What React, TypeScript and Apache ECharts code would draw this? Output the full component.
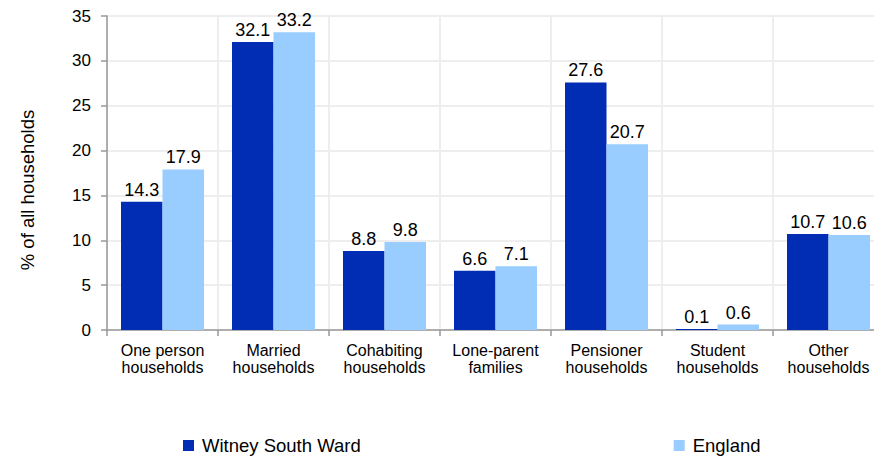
import React, { useEffect, useRef } from "react";
import * as echarts from "echarts";

const categories = [
  "One person\nhouseholds",
  "Married\nhouseholds",
  "Cohabiting\nhouseholds",
  "Lone-parent\nfamilies",
  "Pensioner\nhouseholds",
  "Student\nhouseholds",
  "Other\nhouseholds",
];
const witney = [14.3, 32.1, 8.8, 6.6, 27.6, 0.1, 10.7];
const england = [17.9, 33.2, 9.8, 7.1, 20.7, 0.6, 10.6];
const seriesNames = ["Witney South Ward", "England"];

const FONT = "Liberation Sans, Arial, sans-serif";

export default function App() {
  const ref = useRef<HTMLDivElement>(null);
  useEffect(() => {
    if (!ref.current) return;
    const chart = echarts.init(ref.current, undefined, { renderer: "svg" });
    const label = {
      show: true,
      position: "top",
      distance: 3,
      color: "#000",
      fontSize: 18,
      fontFamily: FONT,
      formatter: (p: any) => p.value.toFixed(1),
    };
    chart.setOption({
      animation: false,
      backgroundColor: "#fff",
      textStyle: { fontFamily: FONT },
      grid: {
        left: 107,
        width: 777,
        top: 16,
        bottom: 129,
        containLabel: false,
        outerBoundsMode: "none",
      },
      legend: {
        left: 178,
        top: 431,
        itemWidth: 11,
        itemHeight: 11,
        itemGap: 313,
        icon: "rect",
        textStyle: { fontSize: 18.5, color: "#000", fontFamily: FONT, padding: [0, 0, 0, 3] },
        data: seriesNames,
      },
      graphic: [
        {
          type: "text",
          x: 27,
          y: 190,
          rotation: Math.PI / 2,
          style: {
            text: "% of all households",
            fontSize: 18.5,
            fontFamily: FONT,
            fill: "#000",
            align: "center",
            verticalAlign: "middle",
          },
        },
      ],
      xAxis: {
        type: "category",
        data: categories,
        axisLine: { lineStyle: { color: "#999", width: 1.5 } },
        axisTick: { show: true, length: 6, alignWithLabel: false, lineStyle: { color: "#999", width: 1.5 } },
        axisLabel: { fontSize: 16, color: "#000", fontFamily: FONT, margin: 12, lineHeight: 17, interval: 0 },
        splitLine: { show: true, lineStyle: { color: "#eeeeee", width: 2 } },
      },
      yAxis: {
        type: "value",
        min: 0,
        max: 35,
        interval: 5,
        axisLine: { show: true, lineStyle: { color: "#999", width: 1.5 } },
        axisTick: { show: true, length: 6, lineStyle: { color: "#999", width: 1.5 } },
        axisLabel: { fontSize: 17, color: "#000", fontFamily: FONT, margin: 16 },
        splitLine: { show: true, lineStyle: { color: "#eeeeee", width: 2 } },
      },
      series: [
        {
          name: seriesNames[0],
          type: "bar",
          data: witney,
          itemStyle: { color: "#002db3" },
          barWidth: 41.5,
          barGap: "0%",
          label,
        },
        {
          name: seriesNames[1],
          type: "bar",
          data: england,
          itemStyle: { color: "#99ccff" },
          barWidth: 41.5,
          barGap: "0%",
          label,
        },
      ],
    });
    return () => chart.dispose();
  }, []);
  return (
    <div
      ref={ref}
      style={{ position: "fixed", left: 0, top: 0, width: 874, height: 459 }}
    />
  );
}
